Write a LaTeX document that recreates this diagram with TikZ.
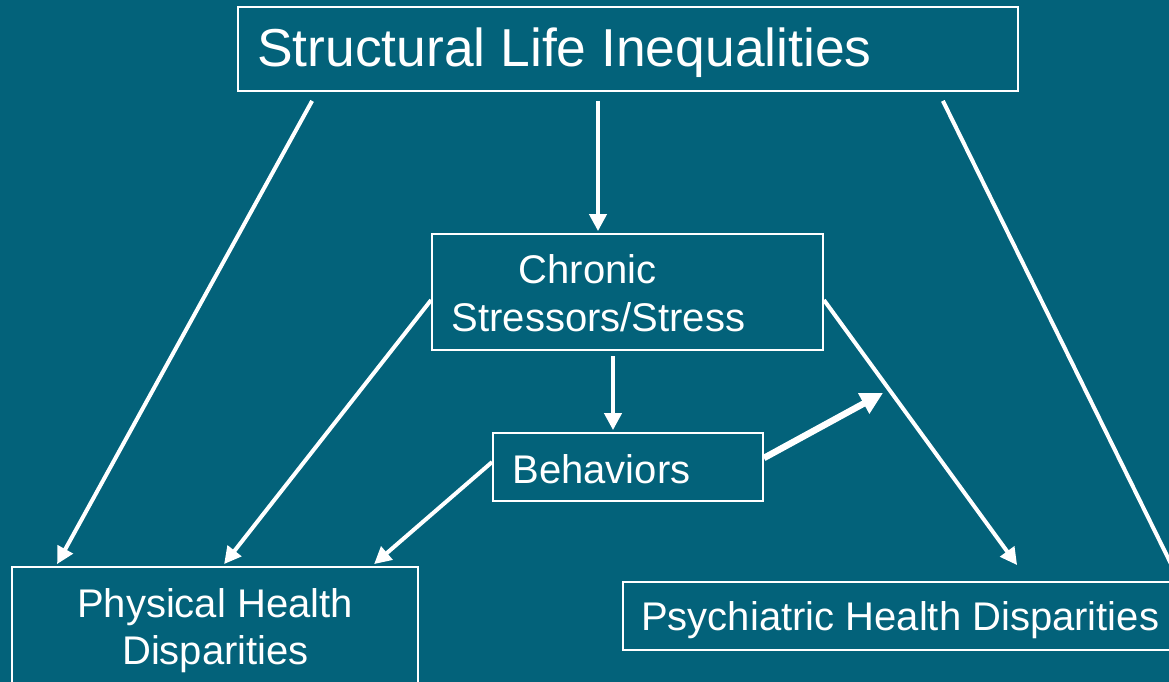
\documentclass[tikz,border=0pt]{standalone}
\usepackage{fontspec}
\setmainfont{Liberation Sans}
\usetikzlibrary{arrows.meta}
\definecolor{bg}{RGB}{3,98,122}
\begin{document}
\begin{tikzpicture}[x=1pt,y=-1pt,
  box/.style={draw=white,line width=1.8pt,inner sep=0pt},
  lbl/.style={text=white,inner sep=0pt,anchor=base,font=\fontsize{40}{48}\selectfont},
  arr/.style={draw=white,line width=4pt,-{Triangle[length=17pt,width=17pt]}},
  plain/.style={draw=white,line width=4pt},
  thickarr/.style={draw=white,line width=6.5pt,-{Triangle[length=22pt,width=22pt]}}]
\fill[bg] (0,0) rectangle (1169,682);
\useasboundingbox (0,0) rectangle (1169,682);
% boxes
\node[box,minimum width=780pt,minimum height=84pt] (top) at (628,49) {};
\node[box,minimum width=391pt,minimum height=116pt] (chronic) at (627.5,292) {};
\node[box,minimum width=270pt,minimum height=68pt] (beh) at (628,467) {};
\node[box,minimum width=406pt,minimum height=133pt] (phys) at (215,633.5) {};
\node[box,minimum width=557pt,minimum height=68pt] (psych) at (901.5,616) {};
% labels
\node[lbl,font=\fontsize{53.4}{60}\selectfont,anchor=base west] (ttop) at (257,67) {Structural Life Inequalities};
\node[lbl] (tchron1) at (587.5,283) {Chronic};
\node[lbl] (tchron2) at (598.5,331) {Stressors/Stress};
\node[lbl] (tbeh) at (601.5,483) {Behaviors};
\node[lbl] (tphys1) at (215,617) {Physical Health};
\node[lbl] (tphys2) at (215.5,664) {Disparities};
\node[lbl,anchor=base west] (tpsych) at (641,630) {Psychiatric Health Disparities};
% free ends
\coordinate (rend) at (1175,572);
\coordinate (bt) at (883,393);
% connectors
\draw[arr] ([xshift=75pt,yshift=-9pt]top.south west) -- ([xshift=46pt,yshift=2pt]phys.north west);
\draw[arr] ([xshift=-30pt,yshift=-9pt]top.south) -- ([xshift=-29.5pt,yshift=2pt]chronic.north);
\draw[plain] ([xshift=-76pt,yshift=-9pt]top.south east) -- (rend);
\draw[arr] ([yshift=-8pt]chronic.west) -- ([xshift=213pt,yshift=2pt]phys.north west);
\draw[arr] ([yshift=-8pt]chronic.east) -- ([xshift=395pt,yshift=16pt]psych.north west);
\draw[arr] ([xshift=-14.5pt,yshift=-5pt]chronic.south) -- ([xshift=-15pt,yshift=2pt]beh.north);
\draw[arr] ([yshift=5pt]beh.west) -- ([xshift=363pt,yshift=2pt]phys.north west);
\draw[thickarr] ([yshift=9pt]beh.east) -- (bt);
\end{tikzpicture}
\end{document}
